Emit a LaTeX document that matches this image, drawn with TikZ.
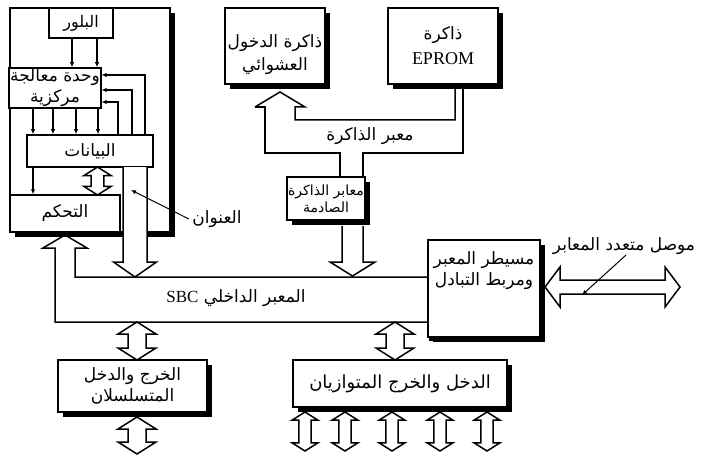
\documentclass[tikz,border=0pt]{standalone}
\usepackage{fontspec}
\setmainfont{Liberation Serif}
\newfontfamily\arabicfont[Script=Arabic]{DejaVu Sans}
\TeXXeTstate=1
\usetikzlibrary{arrows.meta,calc,shadows}

\newcommand\ar[1]{{\arabicfont\beginR #1\endR}}
% vertical hollow double arrow: [size] {top end} {bottom end}
\newcommand\vdbl[3][1]{%
  \draw[hollow] let \p1=#2, \p2=#3, \n1={#1} in
    (\x1,\y1) -- (\x1+\n1*19pt,\y1-\n1*12pt) -- (\x1+\n1*9pt,\y1-\n1*12pt)
    -- (\x1+\n1*9pt,\y2+\n1*12pt) -- (\x1+\n1*19pt,\y2+\n1*12pt) -- (\x1,\y2)
    -- (\x1-\n1*19pt,\y2+\n1*12pt) -- (\x1-\n1*9pt,\y2+\n1*12pt)
    -- (\x1-\n1*9pt,\y1-\n1*12pt) -- (\x1-\n1*19pt,\y1-\n1*12pt) -- cycle;}

\begin{document}
\begin{tikzpicture}[x=1pt, y=-1pt,
    box/.style={rectangle, draw=black, line width=1.5pt, fill=white, inner sep=1pt, align=center, font=\fontsize{17}{21}\selectfont},
    shbox/.style={box, general shadow={fill=black, shadow xshift=5pt, shadow yshift=-5pt}},
    hollow/.style={draw=black, line width=1.5pt, fill=white, line join=miter},
    arr/.style={-{Latex[length=5pt,width=4.5pt]}, line width=1.2pt},
    lbl/.style={font=\fontsize{17}{21}\selectfont, align=center}
]
\useasboundingbox (0,0) rectangle (708,457);

% Nodes
\node[shbox, minimum width=160pt, minimum height=224pt] (sbc) at (90,120) {};
\node[box, minimum width=64pt, minimum height=30pt, font=\fontsize{16}{20}\selectfont] (crystal) at (81,23) {\ar{البلور}};
\node[box, minimum width=90pt, minimum height=40pt] (cpu) at (55,88) {\ar{وحدة معالجة}\\\ar{مركزية}};
\node[box, minimum width=126pt, minimum height=32pt] (data) at (90,151) {\ar{البيانات}};
\node[box, minimum width=110pt, minimum height=37pt] (ctrl) at (65,213.5) {\ar{التحكم}};

\node[shbox, minimum width=100pt, minimum height=76pt,
      label={[lbl, yshift=-9pt]center:\ar{ذاكرة الدخول}\\[2pt]\ar{العشوائي}}] (ram) at (275,46) {};
\node[shbox, minimum width=110pt, minimum height=76pt] (eprom) at (443,46) {\ar{ذاكرة}\\[4pt]{\fontsize{18}{20}\selectfont EPROM}};
\node[shbox, minimum width=78pt, minimum height=43pt, font=\fontsize{14}{17}\selectfont] (membuf) at (326,198.5) {\ar{معابر الذاكرة}\\\ar{الصادمة}};
\node[shbox, minimum width=112pt, minimum height=97pt, general shadow={fill=black, shadow xshift=1pt, shadow yshift=-4pt},
      label={[lbl, anchor=north, yshift=-9pt]north:\ar{مسيطر المعبر}\\\ar{ومربط التبادل}}] (busctl) at (484,288.5) {};
\node[shbox, minimum width=149pt, minimum height=52pt] (serial) at (132.5,386) {\ar{الخرج والدخل}\\\ar{المتسلسلان}};
\node[shbox, minimum width=214pt, minimum height=47pt, font=\fontsize{18}{21}\selectfont] (parallel) at (400,383.5) {\ar{الدخل والخرج المتوازيان}};

\node[lbl] (addrlbl) at (217,219) {\ar{العنوان}};
\node[lbl] (membuslbl) at (370,136) {\ar{معبر الذاكرة}};
\node[lbl] (buslbl) at (236,298) {\ar{المعبر الداخلي \beginL{\rmfamily\fontsize{17}{20}\selectfont SBC}\endL}};
\node[lbl] (multilbl) at (624,246) {\ar{موصل متعدد المعابر}};

\coordinate (bt) at (0,277);
\coordinate (bb) at (0,322);
\coordinate (addrpt) at (131,190);
\coordinate (multipt) at (582,295);

% Edges inside the board
\foreach \dx in {-9,16}
  \draw[arr] ([xshift=\dx pt]crystal.south) -- ([xshift=\dx pt]crystal.south |- cpu.north);
\foreach \dx in {-22,-2,21,43}
  \draw[arr] ([xshift=\dx pt]cpu.south) -- ([xshift=\dx pt]cpu.south |- data.north);
\foreach \dx/\dy in {28/-14, 42/-2, 55/13}
  \draw[arr] ([xshift=\dx pt]data.north) |- ([yshift=\dy pt]cpu.east);
\draw[arr] ([xshift=-57pt]data.south) -- ([xshift=-57pt]data.south |- ctrl.north);
\vdbl[0.72]{(97.5,167)}{(97.5,195)}

% Address bus
\draw[hollow] (123,167) -- (123,262) -- (113.5,262) -- (135,277) -- (156.5,262) -- (147,262) -- (147,167);

% Internal bus
\draw[hollow, fill=none] (busctl.west |- bt) -- (75,277) -- (75,248) -- (87,248) -- (65,235) -- (43,248) -- (55,248)
  -- (55,322) -- (busctl.west |- bb);

% Memory bus
\draw[hollow, fill=none] (255,107) -- (280,92) -- (305,107) -- (295,107) -- (295,120) -- (455,120) -- (455,89);
\draw[hollow, fill=none] (255,107) -- (265,107) -- (265,153) -- (340,153) -- (340,177);
\draw[hollow, fill=none] (363,177) -- (363,153) -- (463,153) -- (463,89);
\draw[hollow] (342,226) -- (342,262) -- (330,262) -- (352.5,276) -- (375,262) -- (363,262) -- (363,226);

% I/O arrows
\vdbl{(137,322)}{(137,360)}
\vdbl{(137,417)}{(137,454)}
\vdbl{(395,322)}{(395,360)}
\foreach \px in {305,345,392,440,487}
  {\vdbl[0.68]{(\px,412)}{(\px,451)}}

% Multi-bus connector
\draw[hollow] (545,287) -- (560,267) -- (560,280) -- (665,280) -- (665,267) -- (680,287) -- (665,307) -- (665,294)
  -- (560,294) -- (560,307) -- cycle;

% Pointers
\draw[arr, line width=1pt] (addrlbl.west) -- (addrpt);
\draw[arr, line width=1pt] ([xshift=2pt,yshift=3pt]multilbl.south) -- (multipt);

\end{tikzpicture}
\end{document}
